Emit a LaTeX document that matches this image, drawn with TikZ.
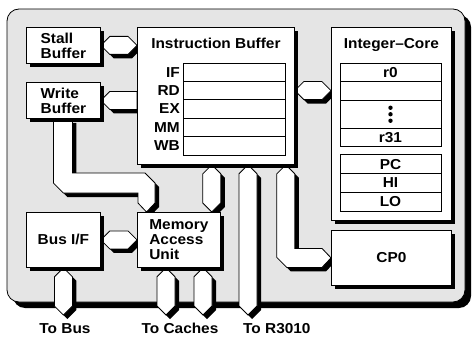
\documentclass[tikz,border=0pt]{standalone}
\usepackage{fontspec}
\setmainfont{Liberation Sans}[FakeStretch=1.07]
\usetikzlibrary{calc,positioning,shadows}
\pgfdeclarelayer{bg}
\pgfdeclarelayer{buses}
\pgfsetlayers{bg,buses,main}
\tikzset{
    box/.style={
        draw,
        fill=white,
        line width=0.8pt,
        anchor=north west,
        align=left,
        drop shadow={shadow xshift=4pt,shadow yshift=-4pt,opacity=1,fill=black}
    },
    bus/.style={
        draw,
        fill=white,
        line width=0.8pt,
        drop shadow={shadow xshift=4pt,shadow yshift=-4pt,opacity=1,fill=black}
    },
    cell/.style={
        draw,
        line width=0.8pt,
        inner sep=0pt,
        outer sep=0pt
    },
    panel/.style={
        draw,
        fill=black!10,
        line width=0.8pt,
        rounded corners=12pt,
        drop shadow={shadow xshift=6pt,shadow yshift=-6pt,opacity=1,fill=black}
    }
}
% horizontal bus with two heads, from #1 (left) to #2 (right)
\newcommand{\hbus}[2]{%
  \draw[bus] let \p1=#1, \p2=#2 in
    (\x1,\y1) -- (\x1+9pt,\y1+9pt) -- (\x2-9pt,\y1+9pt) -- (\x2,\y1)
    -- (\x2-9pt,\y1-9pt) -- (\x1+9pt,\y1-9pt) -- cycle;}
% vertical bus with two heads, from #1 (top) to #2 (bottom)
\newcommand{\vbus}[2]{%
  \draw[bus] let \p1=#1, \p2=#2 in
    (\x1,\y1) -- (\x1+9pt,\y1-9pt) -- (\x1+9pt,\y2+9pt) -- (\x1,\y2)
    -- (\x1-9pt,\y2+9pt) -- (\x1-9pt,\y1-9pt) -- cycle;}

\begin{document}
\begin{tikzpicture}[x=1pt,y=-1pt,font=\fontsize{14.4}{15}\selectfont\bfseries]
  \useasboundingbox (0,0) rectangle (474,337);

  \begin{pgfonlayer}{bg}
    \draw[panel] (7,9) rectangle (465,302);
  \end{pgfonlayer}

  % blocks
  \node[box, minimum width=74pt, minimum height=36pt] (stall) at (26,27) {Stall\\Buffer};
  \node[box, minimum width=74pt, minimum height=36pt] (write) at (26,82) {Write\\Buffer};
  \node[box, minimum width=157pt, minimum height=137pt] (instr) at (137,27) {};
  \node[box, minimum width=120pt, minimum height=193pt] (intcore) at (331,27) {};
  \node[box, minimum width=120pt, minimum height=55pt] (cp0) at (331,230) {CP0};
  \node[box, minimum width=74pt, minimum height=55pt] (busif) at (26,212) {Bus I/F};
  \node[box, minimum width=83pt, minimum height=55pt] (mau) at (137,212) {Memory\\Access\\Unit};

  \node[anchor=base] (ibtitle) at ([yshift=-22pt]instr.north) {Instruction Buffer};
  \node[anchor=base] (ictitle) at ([yshift=-22pt]intcore.north) {Integer--Core};

  % pipeline stages
  \foreach \lab [count=\i] in {IF,RD,EX,MM,WB} {
    \node[cell, minimum width=102pt, minimum height=18.4pt] (st\i) at (234,53.8+18.4*\i) {};
    \node[anchor=east, inner sep=0pt] (st\i lab) at ([xshift=-3pt]st\i.west) {\lab};
  }

  % registers
  \node[cell, minimum width=101pt, minimum height=18.4pt] (r0) at (390.5,72.5) {r0};
  \node[cell, minimum width=101pt, minimum height=18.4pt, below=0pt of r0] (r1) {};
  \node[cell, minimum width=101pt, minimum height=28.3pt, below=0pt of r1] (rdots) {};
  \node[cell, minimum width=101pt, minimum height=18.4pt, below=0pt of rdots] (r31) {r31};
  \foreach \dy in {-6.5,0,6.5}
    \fill ([yshift=\dy pt]rdots.center) circle (2.2pt);

  \node[cell, minimum width=101pt, minimum height=18.7pt, below=8pt of r31] (pc) {PC};
  \node[cell, minimum width=101pt, minimum height=18.7pt, below=0pt of pc] (hi) {HI};
  \node[cell, minimum width=101pt, minimum height=18.7pt, below=0pt of hi] (lo) {LO};

  % bus ends
  \coordinate (imx) at ([xshift=-9pt]mau.north east);
  \coordinate (tobus) at (63,315);
  \coordinate (cacheA) at (166,315);
  \coordinate (cacheB) at (203,315);
  \coordinate (r3010) at (248,315);

  \begin{pgfonlayer}{buses}
    \hbus{(stall.east)}{(instr.west)}
    \draw[bus] let \p1=(write.east), \p2=(instr.west) in
      (\x1,\y1) -- (\x1+9pt,\y1+9pt) -- (\x2,\y1+9pt) -- (\x2,\y1-9pt) -- (\x1+9pt,\y1-9pt) -- cycle;
    \hbus{(instr.east |- st2.east)}{(intcore.west)}
    \hbus{(busif.east)}{(mau.west)}
    \vbus{(instr.south -| imx)}{(imx)}
    \vbus{(instr.south -| r3010)}{(r3010)}
    \vbus{(busif.south)}{(tobus)}
    \vbus{(mau.south -| cacheA)}{(cacheA)}
    \vbus{(mau.south -| cacheB)}{(cacheB)}
    % write buffer to memory access unit
    \draw[bus] let \p1=(write.south), \p2=(mau.north west), \p3=(0,183) in
      (\x1-10pt,\y1) -- (\x1+9pt,\y1) -- (\x1+9pt,\y3+10pt) -- (\x2+8pt,\y3+10pt)
      -- (\x2+18pt,\y3) -- (\x2+18pt,\y2+9pt) -- (\x2+9.5pt,\y2) -- (\x2+1pt,\y2+9pt)
      -- (\x2+1pt,\y3-10pt) -- (\x1,\y3-10pt) -- (\x1-10pt,\y3) -- cycle;
    % instruction buffer to CP0
    \draw[bus] let \p1=(instr.south east), \p2=(cp0.west) in
      (\x1-9pt,\y1) -- (\x1,\y1-9pt) -- (\x1,\y2+9.5pt) -- (\x2-9pt,\y2+9.5pt)
      -- (\x2,\y2) -- (\x2-9pt,\y2-9.5pt) -- (\x1-8pt,\y2-9.5pt) -- (\x1-18pt,\y2+0.5pt)
      -- (\x1-18pt,\y1-9pt) -- cycle;
  \end{pgfonlayer}

  \node[below=8pt of tobus, inner sep=0pt, xshift=2pt] (lbus) {To Bus};
  \node[below=8pt of cacheA, inner sep=0pt, xshift=14pt] (lcaches) {To Caches};
  \node[below right=8pt and -5pt of r3010, inner sep=0pt] (lr3010) {To R3010};
\end{tikzpicture}
\end{document}
